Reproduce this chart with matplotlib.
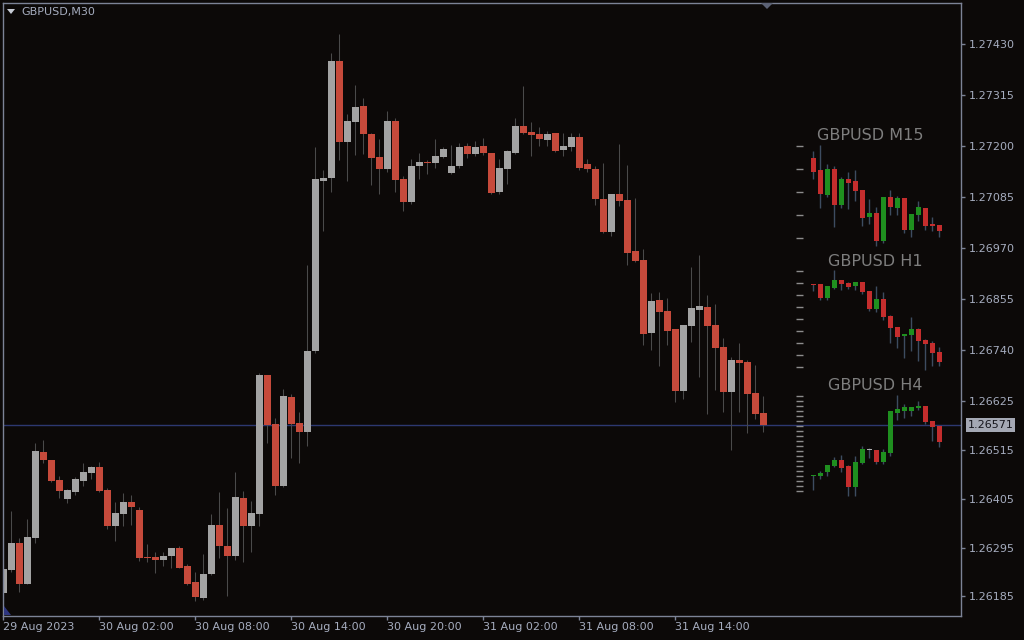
import numpy as np
import matplotlib
matplotlib.use("Agg")
import matplotlib.pyplot as plt
from matplotlib.patches import Polygon

W, H = 1024, 640

# ---- GBPUSD M30 bars, prices in points (1e-5) ----
m30_open = [126192, 126244, 126305, 126214, 126316, 126510, 126492, 126447, 126404, 126420,
            126444, 126462, 126476, 126424, 126343, 126370, 126397, 126379, 126273, 126273,
            126266, 126275, 126293, 126253, 126217, 126181, 126235, 126345, 126298, 126277,
            126406, 126343, 126370, 126683, 126573, 126433, 126634, 126575, 126555, 126738,
            127121, 127128, 127391, 127209, 127254, 127290, 127227, 127175, 127148, 127256,
            127125, 127073, 127155, 127164, 127161, 127175, 127139, 127155, 127200, 127182,
            127200, 127184, 127096, 127148, 127184, 127245, 127231, 127227, 127213, 127229,
            127191, 127198, 127220, 127159, 127148, 127080, 127006, 127091, 127078, 126963,
            126943, 126778, 126852, 126828, 126787, 126647, 126794, 126830, 126837, 126796,
            126747, 126645, 126717, 126713, 126643, 126598]
m30_high = [126290, 126377, 126316, 126359, 126530, 126537, 126493, 126456, 126426, 126453,
            126485, 126478, 126487, 126429, 126397, 126417, 126413, 126386, 126302, 126284,
            126284, 126295, 126298, 126257, 126239, 126280, 126370, 126420, 126384, 126465,
            126422, 126399, 126688, 126684, 126586, 126652, 126641, 126600, 126931, 127198,
            127146, 127410, 127452, 127272, 127337, 127308, 127229, 127216, 127279, 127263,
            127132, 127170, 127184, 127168, 127216, 127198, 127202, 127207, 127207, 127211,
            127218, 127185, 127170, 127191, 127263, 127335, 127254, 127243, 127234, 127230,
            127229, 127229, 127229, 127170, 127155, 127161, 127092, 127204, 127157, 127083,
            126968, 126868, 126871, 126857, 126788, 126797, 126927, 126954, 126864, 126844,
            126767, 126724, 126756, 126718, 126706, 126636]
m30_low = [126190, 126239, 126194, 126212, 126305, 126485, 126443, 126406, 126395, 126413,
           126433, 126449, 126420, 126338, 126309, 126343, 126345, 126264, 126262, 126237,
           126253, 126250, 126248, 126210, 126174, 126176, 126234, 126271, 126187, 126266,
           126262, 126284, 126343, 126530, 126413, 126431, 126496, 126485, 126523, 126733,
           127008, 127096, 127168, 127121, 127180, 127182, 127112, 127091, 127141, 127096,
           127053, 127069, 127125, 127137, 127150, 127173, 127137, 127150, 127173, 127177,
           127180, 127091, 127091, 127114, 127183, 127228, 127177, 127200, 127200, 127186,
           127177, 127189, 127146, 127141, 127067, 127005, 126997, 127065, 126931, 126938,
           126751, 126740, 126704, 126751, 126622, 126629, 126758, 126679, 126595, 126650,
           126600, 126514, 126600, 126553, 126584, 126555]
m30_close = [126246, 126305, 126214, 126318, 126512, 126492, 126444, 126422, 126424, 126449,
             126465, 126476, 126422, 126343, 126372, 126397, 126386, 126271, 126271, 126266,
             126275, 126293, 126250, 126214, 126183, 126235, 126345, 126298, 126275, 126408,
             126343, 126372, 126683, 126571, 126433, 126636, 126573, 126555, 126738, 127125,
             127128, 127391, 127209, 127256, 127288, 127227, 127173, 127148, 127256, 127123,
             127073, 127155, 127164, 127161, 127177, 127193, 127155, 127198, 127182, 127198,
             127184, 127094, 127150, 127189, 127245, 127229, 127225, 127216, 127227, 127189,
             127200, 127220, 127150, 127148, 127080, 127006, 127091, 127076, 126959, 126940,
             126776, 126850, 126825, 126783, 126647, 126796, 126834, 126839, 126794, 126744,
             126645, 126717, 126710, 126641, 126595, 126571]

date_bars = [0, 12, 24, 36, 48, 60, 72, 84]
date_labels = ["29 Aug 2023", "30 Aug 02:00", "30 Aug 08:00", "30 Aug 14:00",
               "30 Aug 20:00", "31 Aug 02:00", "31 Aug 08:00", "31 Aug 14:00"]
price_ticks = [1.27430, 1.27315, 1.27200, 1.27085, 1.26970, 1.26855,
               1.26740, 1.26625, 1.26515, 1.26405, 1.26295, 1.26185]
last_price = 1.26571

# ---- mini charts (other timeframes) ----
m15_open = [126716, 126692, 126643, 126694, 126623, 126674, 126670, 126653, 126599, 126606,
            126551, 126638, 126617, 126636, 126573, 126603, 126617, 126585, 126583]
m15_high = [126730, 126742, 126704, 126700, 126679, 126688, 126692, 126653, 126634, 126619,
            126638, 126652, 126640, 126636, 126604, 126631, 126617, 126599, 126583]
m15_low = [126675, 126617, 126639, 126579, 126617, 126615, 126631, 126581, 126585, 126541,
           126547, 126603, 126603, 126567, 126559, 126591, 126573, 126571, 126559]
m15_close = [126689, 126645, 126694, 126623, 126674, 126667, 126651, 126597, 126606, 126551,
             126638, 126619, 126636, 126573, 126604, 126619, 126581, 126581, 126571]

h1_open = [126960, 126960, 126891, 126940, 126980, 126965, 126950, 126970, 126925, 126835,
           126885, 126800, 126745, 126700, 126705, 126735, 126681, 126666, 126621]
h1_high = [126960, 126960, 126950, 127030, 126980, 126970, 126970, 126970, 126925, 126950,
           126920, 126805, 126745, 126710, 126795, 126740, 126686, 126676, 126646]
h1_low = [126926, 126881, 126881, 126935, 126930, 126935, 126930, 126910, 126825, 126820,
          126780, 126665, 126640, 126590, 126625, 126576, 126530, 126551, 126551]
h1_close = [126953, 126891, 126950, 126980, 126960, 126945, 126970, 126920, 126835, 126885,
            126795, 126740, 126695, 126710, 126735, 126676, 126661, 126616, 126571]

h4_open = [126228, 126228, 126271, 126331, 126391, 126331, 126121, 126361, 126486, 126491,
           126371, 126461, 126861, 126881, 126881, 126911, 126931, 126781, 126731]
h4_high = [126241, 126281, 126341, 126421, 126441, 126341, 126431, 126531, 126511, 126491,
           126501, 126881, 127041, 126951, 126921, 126981, 126931, 126781, 126731]
h4_low = [126091, 126201, 126231, 126321, 126268, 126031, 126031, 126351, 126411, 126351,
          126351, 126431, 126791, 126811, 126831, 126891, 126751, 126581, 126521]
h4_close = [126241, 126261, 126341, 126391, 126314, 126121, 126371, 126501, 126486, 126371,
            126471, 126881, 126901, 126921, 126921, 126931, 126771, 126721, 126571]

BG = "#0c0908"
FG = "#a6adbf"
BORDER = "#7c8396"
BULL = "#a3a3a3"
BEAR = "#c64a3b"
WICK = "#4a4a4a"


def fx(px):
    return px / W


def fy(px):
    return 1 - px / H


def draw_candles(ax, o, h, l, c, width, up, down, flat, wick, min_h, wick_lw=0.75):
    o, h, l, c = [np.asarray(a) / 1e5 for a in (o, h, l, c)]
    x = np.arange(len(o))
    colors = np.where(c > o, up, np.where(c < o, down, flat))
    ax.vlines(x, l, h, color=wick, lw=wick_lw, zorder=1)
    bottom = np.minimum(o, c)
    height = np.maximum(np.abs(c - o), min_h)
    ax.bar(x, height, width, bottom=bottom, color=colors, lw=0, zorder=2)


fig = plt.figure(figsize=(W / 100, H / 100), dpi=100, facecolor=BG)

# main chart
ax = fig.add_axes([fx(3), fy(615.5), (960.5 - 3) / W, (615.5 - 3) / H], facecolor=BG)
x0 = -0.3 / 8
ax.set_xlim(x0, x0 + 957.5 / 8)
ax.set_ylim(1.261420, 1.275222)
y_per_px = (1.275222 - 1.261420) / 612.5

ax.axhline(last_price, color="#2d3870", lw=1, zorder=0)
draw_candles(ax, m30_open, m30_high, m30_low, m30_close, 0.875,
             BULL, BEAR, BULL, WICK, y_per_px)

for s in ax.spines.values():
    s.set_color(BORDER)
    s.set_linewidth(1)

ax.yaxis.tick_right()
ax.set_yticks(price_ticks)
ax.set_yticklabels([f"{p:.5f}" for p in price_ticks])
ax.set_xticks(date_bars)
ax.set_xticklabels(date_labels, ha="left")
ax.tick_params(axis="both", colors=BORDER, labelcolor=FG, labelsize=8, length=3, width=1)
ax.tick_params(axis="y", pad=3)
ax.tick_params(axis="x", pad=2)

ax.annotate(f"{last_price:.5f}", xy=(1.0, last_price), xycoords=("axes fraction", "data"),
            xytext=(5, 0), textcoords="offset points", va="center", ha="left",
            fontsize=8, color="#15151c",
            bbox=dict(boxstyle="square,pad=0.15", fc="#a4a8b4", ec="none"))

# header
fig.patches.append(Polygon([[fx(7), fy(9)], [fx(15), fy(9)], [fx(11), fy(14)]],
                           closed=True, transform=fig.transFigure, fc="#c8ccd6", ec="none"))
fig.text(fx(21), fy(12), "GBPUSD,M30", fontsize=8, color=FG, va="center", ha="left")

# chart shift markers
fig.patches.append(Polygon([[fx(761), fy(3)], [fx(773), fy(3)], [fx(767), fy(9)]],
                           closed=True, transform=fig.transFigure, fc="#5c6275", ec="none"))
fig.patches.append(Polygon([[fx(3.5), fy(606)], [fx(3.5), fy(615)], [fx(11), fy(615)]],
                           closed=True, transform=fig.transFigure, fc="#2e3680", ec="none"))

# mini charts
minis = [
    ("GBPUSD M15", (m15_open, m15_high, m15_low, m15_close), 140, 250, (1.265324, 1.267524),
     [1.26556, 1.26602, 1.26648, 1.26694, 1.26740], 870, 136),
    ("GBPUSD H1", (h1_open, h1_high, h1_low, h1_close), 265, 375, (1.265045, 1.270545),
     list(np.arange(126545, 127026, 60) / 1e5), 875, 262),
    ("GBPUSD H4", (h4_open, h4_high, h4_low, h4_close), 390, 500, (1.25991, 1.27091),
     list(np.arange(126081, 127032, 50) / 1e5), 875, 386),
]
for name, (o, h, l, c), top, bot, ylim, ticks, tx, ty in minis:
    mx = fig.add_axes([fx(803), fy(bot), 145 / W, (bot - top) / H])
    mx.patch.set_alpha(0)
    xs = -(813.3 - 803) / 7
    mx.set_xlim(xs, xs + 145 / 7)
    mx.set_ylim(*ylim)
    for s in mx.spines.values():
        s.set_visible(False)
    mx.set_xticks([])
    mx.set_yticks(ticks)
    mx.set_yticklabels([])
    mx.tick_params(axis="y", length=5, width=1, color="#8c8c8c", direction="out")
    draw_candles(mx, o, h, l, c, 0.65, "#1f8f1f", "#c42d2d", "#b0b0b0", "#3d4c60",
                 (ylim[1] - ylim[0]) / (bot - top), wick_lw=1.0)
    fig.text(fx(tx), fy(ty), name, fontsize=11.5, color="#7e7e7e", ha="center", va="center")

fig.savefig("out.png", dpi=100, facecolor=BG)
